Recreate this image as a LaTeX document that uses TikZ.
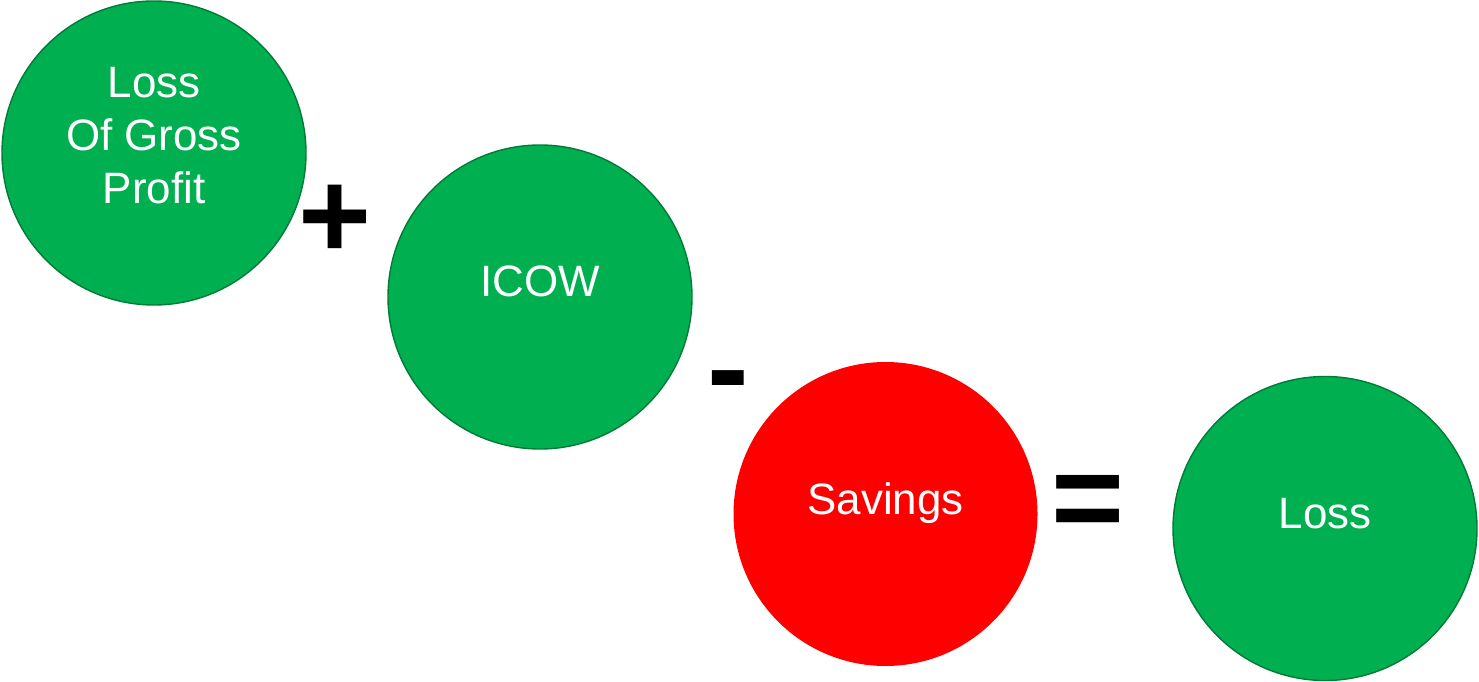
\documentclass[tikz,border=0pt]{standalone}
\usepackage{fontspec}
\setmainfont{Liberation Sans}
\definecolor{ballgreen}{RGB}{0,176,80}
\definecolor{ballred}{RGB}{255,0,0}
\begin{document}
\begin{tikzpicture}[
        ball/.style={circle,minimum size=3.04cm,inner sep=0pt},
        gain/.style={ball,fill=ballgreen,draw=ballgreen!70!black,line width=0.4pt},
        cost/.style={ball,fill=ballred},
        txt/.style={anchor=base,text=white,font=\fontsize{12.5pt}{15.1pt}\selectfont,align=center},
        op/.style={inner sep=0pt,font=\fontsize{35.6pt}{36pt}\selectfont\bfseries}
    ]
        \useasboundingbox (0,0) rectangle (14.79,6.81);
        \node[gain] (gp)   at (1.54,5.28)  {};
        \node[gain] (icow) at (5.40,3.84)  {};
        \node[cost] (sav)  at (8.855,1.67) {};
        \node[gain] (loss) at (13.25,1.525) {};
        % multi-line text sits on the baseline of its last line
        \node[txt] (gpt)   at ([yshift=-0.51cm]gp.center) {Loss\\Of Gross\\Profit};
        \node[txt] (icowt) at (icow.center) {ICOW};
        \node[txt] (savt)  at (sav.center)  {Savings};
        \node[txt] (losst) at (loss.center) {Loss};
        \node[op] (plus)  at (3.35,4.59)  {+};
        \node[op] (minus) at (7.28,2.90)  {-};
        \node[op] (eq)    at (10.88,1.73) {=};
    \end{tikzpicture}
\end{document}
